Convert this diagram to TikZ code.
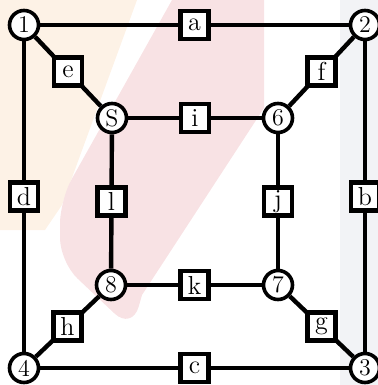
\documentclass[tikz,border=0pt]{standalone}
\usepackage{xcolor}
\usetikzlibrary{positioning}
\definecolor{wmpeach}{HTML}{FDF2E6}
\definecolor{wmpink}{HTML}{F8E2E4}
\definecolor{wmgray}{HTML}{F2F3F6}
\tikzset{vertex/.style={circle,draw,line width=1.8pt,fill=white,minimum size=14.5pt,inner sep=0pt,font=\large},
    edge box/.style={rectangle,draw,line width=2.4pt,fill=white,minimum size=14pt,inner sep=0pt,
        font=\fontsize{13}{13}\selectfont},
    edge/.style={draw,line width=2.2pt,-}}

\begin{document}
\begin{tikzpicture}[x=0.5pt,y=-0.5pt]
    \useasboundingbox (0,0) rectangle (378,385);

    % Faint background shapes
    \fill[wmpeach] (0,0) -- (137,0) -- (62,205) -- (45,230) -- (0,230) -- cycle;
    \fill[wmpink] (172,0) -- (264,0) -- (264,108) -- (142,295)
        [rounded corners=12] -- (132,330) -- (60,262) -- (60,200) [sharp corners] -- cycle;
    \fill[wmgray] (340,0) rectangle (378,385);

    % Vertices
    \node[vertex] (n1) at (24,25)   {1};
    \node[vertex] (n2) at (365,25)  {2};
    \node[vertex] (n3) at (365,368) {3};
    \node[vertex] (n4) at (24,368)  {4};
    \node[vertex] (n5) at (112,118) {S};
    \node[vertex] (n6) at (278,118) {6};
    \node[vertex] (n7) at (278,285) {7};
    \node[vertex] (n8) at (111,285) {8};

    % Outer square
    \draw[edge] (n1) -- node[edge box] (ea) {a} (n2);
    \draw[edge] (n2) -- node[edge box] (eb) {b} (n3);
    \draw[edge] (n4) -- node[edge box] (ec) {c} (n3);
    \draw[edge] (n1) -- node[edge box] (ed) {d} (n4);

    % Spokes
    \draw[edge] (n1) -- node[edge box] (ee) {e} (n5);
    \draw[edge] (n2) -- node[edge box] (ef) {f} (n6);
    \draw[edge] (n7) -- node[edge box] (eg) {g} (n3);
    \draw[edge] (n4) -- node[edge box] (eh) {h} (n8);

    % Inner square
    \draw[edge] (n5) -- node[edge box] (ei) {i} (n6);
    \draw[edge] (n6) -- node[edge box] (ej) {j} (n7);
    \draw[edge] (n8) -- node[edge box] (ek) {k} (n7);
    \draw[edge] (n5) -- node[edge box] (el) {l} (n8);
\end{tikzpicture}
\end{document}
